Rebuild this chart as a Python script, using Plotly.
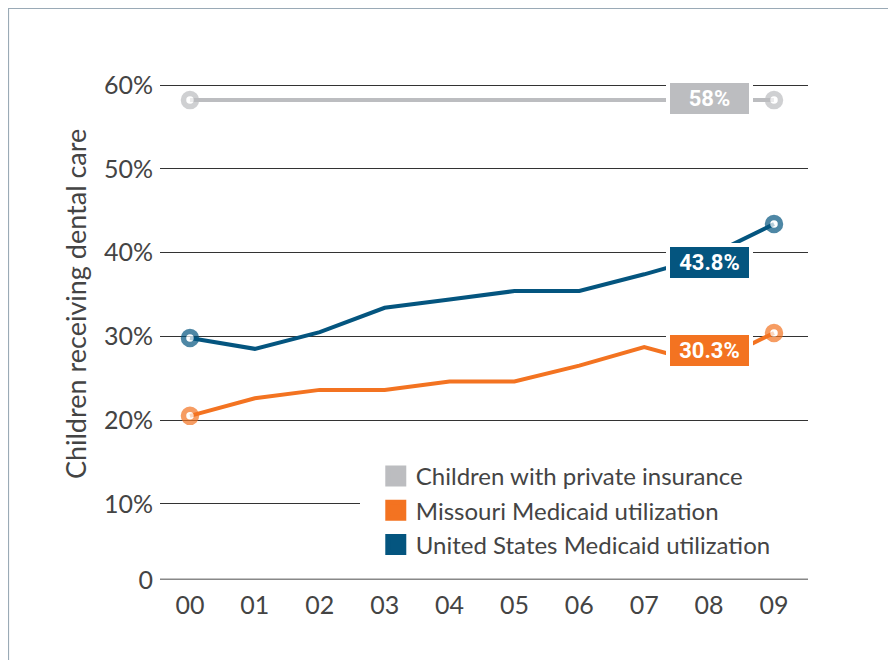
import plotly.graph_objects as go

years = ["00", "01", "02", "03", "04", "05", "06", "07", "08", "09"]
private_ins = [58.2, 58.2, 58.2, 58.2, 58.2, 58.2, 58.2, 58.2, 58.2, 58.2]
missouri = [20.5, 22.6, 23.6, 23.6, 24.6, 24.6, 26.5, 28.7, 26.6, 30.4]
us = [29.8, 28.5, 30.5, 33.4, 34.4, 35.4, 35.4, 37.4, 39.6, 43.4]
series_names = ["Children with private insurance", "Missouri Medicaid utilization",
                "United States Medicaid utilization"]
end_labels = ["58%", "30.3%", "43.8%"]
label_y = [58.45, 28.35, 38.85]
colors = ["#BCBDC0", "#F37321", "#04557F"]
ytick_vals = [0.9, 10, 20, 30, 40, 50, 60]
ytick_text = ["0", "10%", "20%", "30%", "40%", "50%", "60%"]

xs = list(range(len(years)))
fig = go.Figure()
data = [private_ins, missouri, us]
n = len(years)
for name, vals, col in zip(series_names, data, colors):
    sizes = [13] + [0] * (n - 2) + [13]
    fig.add_trace(go.Scatter(
        x=xs, y=vals, mode="lines+markers", showlegend=False,
        line=dict(color=col, width=4),
        marker=dict(size=sizes, color="white", line=dict(color=col, width=5.5)),
        hoverinfo="skip"))

# legend entries
for i, (name, col) in enumerate(zip(series_names, colors)):
    fig.add_trace(go.Scatter(
        x=[None], y=[None], mode="markers", name=name, legendgroup=f"g{i}",
        marker=dict(symbol="square", size=16, color=col, line=dict(color=col, width=6))))

for txt, yv, col in zip(end_labels, label_y, colors):
    fig.add_annotation(x=8, y=yv, xref="x", yref="y", text=f"<b>{txt}</b>",
                       showarrow=False, bgcolor=col, bordercolor="white",
                       borderwidth=4, borderpad=0, width=79, height=31,
                       font=dict(family="Roboto", size=22, color="white"))

fig.add_annotation(x=-0.131, y=0.552, xref="paper", yref="paper",
                   xanchor="center", yanchor="middle",
                   text="Children receiving dental care", textangle=-90,
                   showarrow=False, font=dict(family="Lato", size=27, color="#444444"))

# white backing behind the legend area (hides the 10% gridline there)
fig.add_shape(type="rect", xref="paper", yref="paper",
              x0=(360 - 160) / 648, x1=1.02, y0=0.13, y1=0.19,
              line=dict(width=0), fillcolor="white", layer="above")

# frame
fig.add_shape(type="rect", xref="paper", yref="paper",
              x0=-0.2338, x1=1.2, y0=-0.3, y1=1.143,
              line=dict(color="#9AAAB6", width=1.2), fillcolor="rgba(0,0,0,0)", layer="above")

fig.update_layout(
    width=896, height=660,
    margin=dict(l=152, r=96, t=72, b=88),
    paper_bgcolor="white", plot_bgcolor="white",
    showlegend=True,
    legend=dict(x=0.333, y=0.252, xanchor="left", yanchor="top",
                bgcolor="white", font=dict(family="Lato", size=24, color="#444444"),
                tracegroupgap=0, itemwidth=30),
    xaxis=dict(range=[-0.462, 9.524], tickvals=xs, ticktext=years,
               showgrid=False, zeroline=False, showline=False, ticks="",
               tickfont=dict(family="Lato", size=25, color="#444444"),
               ticklabelstandoff=8),
    yaxis=dict(range=[0.9, 60.6], tickvals=ytick_vals, ticktext=ytick_text,
               showgrid=True, gridcolor="#333333", gridwidth=1,
               zeroline=False, showline=False, ticks="",
               tickfont=dict(family="Lato", size=25, color="#444444"),
               ticklabelstandoff=6),
)
# x baseline
fig.add_shape(type="line", xref="paper", yref="y", x0=0, x1=1, y0=0.9, y1=0.9,
              line=dict(color="#888888", width=3), layer="above")

fig.write_html("out.html")
